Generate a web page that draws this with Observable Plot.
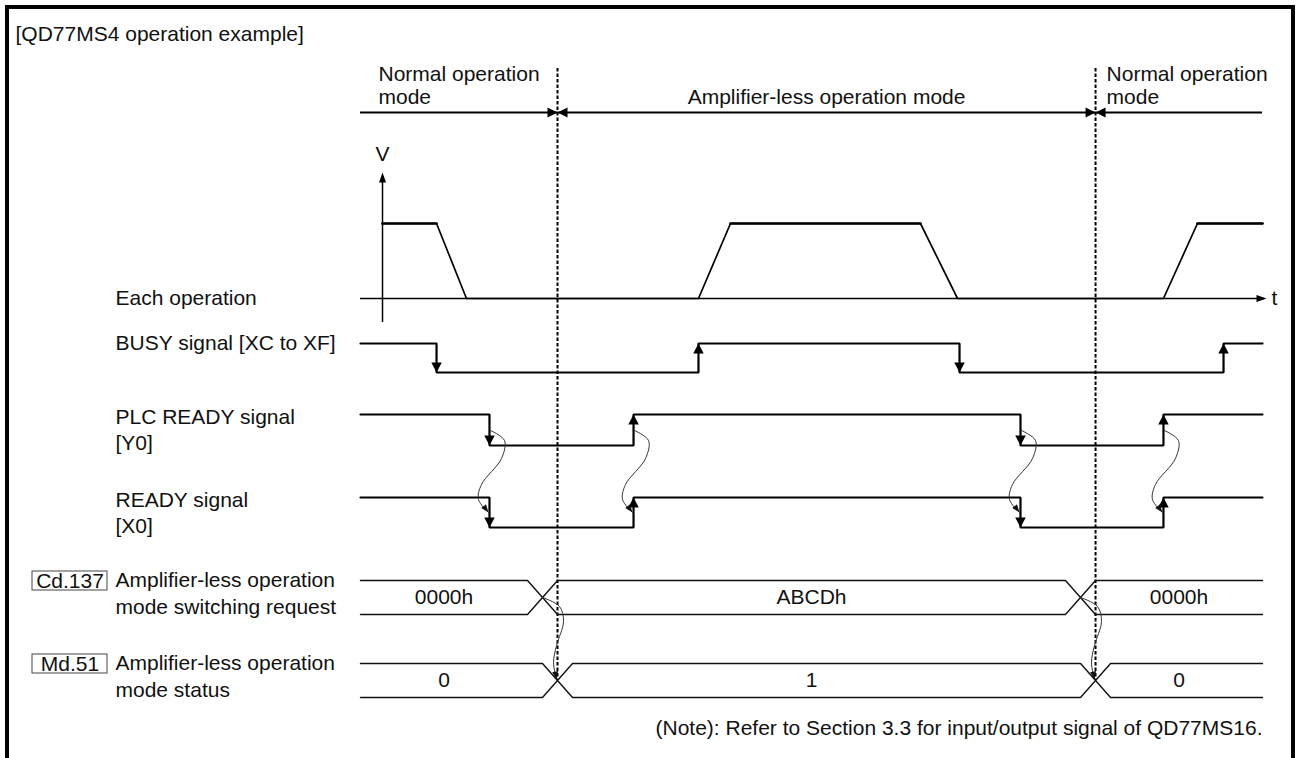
<!DOCTYPE html>
<html>
<head>
<meta charset="utf-8">
<script src="https://cdn.jsdelivr.net/npm/d3@7"></script>
<script src="https://cdn.jsdelivr.net/npm/@observablehq/plot@0.6"></script>
<style>
html, body { margin:0; padding:0; background:#fff; overflow:hidden; }
#wrap { position:relative; width:1296px; height:758px; }
#frame { position:absolute; left:5px; top:5px; width:1290px; height:790px; box-sizing:border-box; border:4.5px solid #000; border-bottom:none; pointer-events:none; }
#chart svg { display:block; }
</style>
</head>
<body>
<div id="wrap"><div id="chart"></div><div id="frame"></div></div>
<script>
// ---------------- data ----------------
const title = "[QD77MS4 operation example]";
const note = "(Note): Refer to Section 3.3 for input/output signal of QD77MS16.";
const modeNames = ["Normal operation", "Amplifier-less operation mode", "Normal operation"];
const modeSub = ["mode", "", "mode"];
const modeSwitchT = [21.84, 81.49];

// each operation (speed profile), time in % of the time axis, speed normalised
const speedT = [2.44, 8.43, 11.75, 37.47, 41.02, 62.08, 66.19, 89.02, 92.79, 100];
const speedV = [1, 1, 0, 0, 1, 1, 0, 0, 1, 1];

const busyT = [0, 8.43, 37.47, 66.41, 95.68];
const busyLevel = [1, 0, 1, 0, 1];
const plcReadyT = [0, 14.30, 30.27, 73.17, 89.02];
const plcReadyLevel = [1, 0, 1, 0, 1];
const readyT = [0, 14.30, 30.27, 73.17, 89.02];
const readyLevel = [1, 0, 1, 0, 1];

const cdCrossT = [20.18, 79.82];
const cdValues = ["0000h", "ABCDh", "0000h"];
const mdCrossT = [21.84, 81.49];
const mdValues = ["0", "1", "0"];

const signalNames = [["Each operation"], ["BUSY signal [XC to XF]"], ["PLC READY signal", "[Y0]"], ["READY signal", "[X0]"]];
const bufferCodes = ["Cd.137", "Md.51"];
const bufferNames = [["Amplifier-less operation", "mode switching request"], ["Amplifier-less operation", "mode status"]];
const axisNames = ["V", "t"];

// ---------------- layout ----------------
const W = 1296, H = 758;
const XR = [360, 1262];
const TD = [0, 100];
const tx = px => TD[0] + (px - XR[0]) / (XR[1] - XR[0]) * (TD[1] - TD[0]);
const dt = px => px / (XR[1] - XR[0]) * (TD[1] - TD[0]);
const L = { title: 34, mode1: 74, mode2: 97, modeLine: 112, dashTop: 68, dashBottom: 680,
  vLabel: 154, vTip: 172, vBottom: 322, speedTop: 223, tAxis: 298,
  busyHi: 343, busyLo: 372, plcHi: 414, plcLo: 445, rdyHi: 497, rdyLo: 527,
  cdTop: 580, cdBot: 614, mdTop: 663, mdBot: 697, note: 728 };
const signalLabelY = [[L.tAxis], [L.busyHi], [L.plcHi + 3, L.plcHi + 29], [L.rdyHi + 3, L.rdyHi + 29]];
const bufferLabelY = [[L.cdTop, L.cdTop + 27], [L.mdTop, L.mdTop + 27]];
const FONT = "'Liberation Sans', Arial, Helvetica, sans-serif";
const FS = 21;
const busHalf = dt(15);

// arrowhead symbol: tip at origin, pointing up
const head = (len, wid) => ({ draw(ctx) { ctx.moveTo(0, 0); ctx.lineTo(wid / 2, len); ctx.lineTo(-wid / 2, len); ctx.closePath(); } });
const SIG = head(10, 10.5), MODE = head(10, 10), AXIS = head(10, 7), CURV = head(8, 6);

// ---------------- derived geometry ----------------
function stepPts(ts, lv, hi, lo, key) {
  const y = v => v ? hi : lo, pts = [];
  ts.forEach((t, i) => { if (i) pts.push({t, y: y(lv[i - 1]), key}); pts.push({t, y: y(lv[i]), key}); });
  pts.push({t: TD[1], y: y(lv[lv.length - 1]), key});
  return pts;
}
function edgeArrows(ts, lv, hi, lo) {
  return ts.slice(1).map((t, i) => ({t, y: lv[i + 1] ? hi : lo, rot: lv[i + 1] ? 0 : 180}));
}
function busShapes(cross, top, bot, key, h) {
  const mid = (top + bot) / 2, out = [], n = cross.length;
  const add = (arr, k) => arr.forEach(([t, y]) => out.push({t, y, key: key + k}));
  add([[TD[0], top], [cross[0] - h, top], [cross[0], mid], [cross[0] - h, bot], [TD[0], bot]], 0);
  for (let i = 1; i < n; i++) {
    const a = cross[i - 1], b = cross[i];
    add([[a, mid], [a + h, top], [b - h, top], [b, mid], [b - h, bot], [a + h, bot], [a, mid]], i);
  }
  const c = cross[n - 1];
  add([[TD[1], top], [c + h, top], [c, mid], [c + h, bot], [TD[1], bot]], n);
  return out;
}
function valueCenters(cross, h) {
  const c = [(TD[0] + cross[0] - h) / 2];
  for (let i = 1; i < cross.length; i++) c.push((cross[i - 1] + cross[i]) / 2);
  c.push((cross[cross.length - 1] + h + TD[1]) / 2);
  return c;
}
// hand-drawn cause->effect connectors
const handTpl = [[1, 16], [15, 26], [12, 44], [-8, 70], [-11, 85], [-1, 98]];
const busTpl = [[0, 0], [17, 9], [21, 24], [14, 48], [11, 65], [14, 82]];
function connector(t0, y0, tpl, key) {
  const pts = tpl.map(([dx, dy]) => ({t: t0 + dt(dx), y: y0 + dy, key}));
  const [ax, ay] = tpl[tpl.length - 2], [bx, by] = tpl[tpl.length - 1];
  const rot = Math.atan2(bx - ax, -(by - ay)) * 180 / Math.PI;
  return {pts, tip: {t: pts[pts.length - 1].t, y: pts[pts.length - 1].y, rot}};
}

const lines = [
  ...stepPts(busyT, busyLevel, L.busyHi, L.busyLo, "busy"),
  ...stepPts(plcReadyT, plcReadyLevel, L.plcHi, L.plcLo, "plc"),
  ...stepPts(readyT, readyLevel, L.rdyHi, L.rdyLo, "rdy")
];
const arrows = [
  ...edgeArrows(busyT, busyLevel, L.busyHi, L.busyLo),
  ...edgeArrows(plcReadyT, plcReadyLevel, L.plcHi, L.plcLo),
  ...edgeArrows(readyT, readyLevel, L.rdyHi, L.rdyLo)
];
const speedPts = speedT.map((t, i) => ({t, y: L.tAxis - speedV[i] * (L.tAxis - L.speedTop)}));
const topPts = [];
speedT.forEach((t, i) => { if (speedV[i] === 1) topPts.push({t, y: L.speedTop, key: speedT.slice(0, i + 1).filter((_, j) => speedV[j] === 1 && (j === 0 || speedV[j - 1] === 0)).length}); });

const bus = [
  ...busShapes(cdCrossT, L.cdTop, L.cdBot, "cd", busHalf),
  ...busShapes(mdCrossT, L.mdTop, L.mdBot, "md", busHalf)
];
const centers = valueCenters(cdCrossT, busHalf);
const busText = [
  ...cdValues.map((s, i) => ({t: centers[i], y: (L.cdTop + L.cdBot) / 2, s})),
  ...mdValues.map((s, i) => ({t: centers[i], y: (L.mdTop + L.mdBot) / 2, s}))
];

const conns = [];
plcReadyT.slice(1).forEach((t, i) => conns.push(connector(t, L.plcHi, handTpl, "h" + i)));
cdCrossT.forEach((t, i) => conns.push(connector(t, (L.cdTop + L.cdBot) / 2, busTpl, "b" + i)));
const connPts = conns.flatMap(c => c.pts);
const connTips = conns.map(c => c.tip);

const modeArrows = modeSwitchT.flatMap(t => [{t, y: L.modeLine, rot: 90}, {t, y: L.modeLine, rot: -90}]);

// texts
const startTexts = [
  {t: tx(15), y: L.title, s: title},
  {t: TD[0] + dt(18), y: L.mode1, s: modeNames[0]},
  {t: TD[0] + dt(18), y: L.mode2, s: modeSub[0]},
  {t: modeSwitchT[1] + dt(11), y: L.mode1, s: modeNames[2]},
  {t: modeSwitchT[1] + dt(11), y: L.mode2, s: modeSub[2]},
  {t: TD[1] + dt(9), y: L.tAxis, s: axisNames[1]},
  ...signalNames.flatMap((ls, i) => ls.map((s, j) => ({t: tx(115), y: signalLabelY[i][j], s}))),
  ...bufferNames.flatMap((ls, i) => ls.map((s, j) => ({t: tx(115), y: bufferLabelY[i][j], s})))
];
const midTexts = [
  {t: (modeSwitchT[0] + modeSwitchT[1]) / 2, y: L.mode2, s: modeNames[1]},
  {t: speedT[0], y: L.vLabel, s: axisNames[0]},
  ...busText,
  ...bufferCodes.map((s, i) => ({t: tx(69.5), y: bufferLabelY[i][0] + 0.5, s}))
];
const boxes = bufferCodes.map((s, i) => ({t1: tx(32), t2: tx(107), y1: bufferLabelY[i][0] - 9, y2: bufferLabelY[i][0] + 10}));

const chart = Plot.plot({
  width: W, height: H, margin: 0,
  x: {domain: TD, range: XR, axis: null},
  y: {domain: [0, H], range: [0, H], axis: null},
  style: {fontFamily: FONT, fontSize: FS + "px", background: "#fff", overflow: "visible"},
  marks: [
    // mode switch dashed lines
    Plot.ruleX(modeSwitchT, {x: d => d, y1: L.dashTop, y2: L.dashBottom, stroke: "#000", strokeWidth: 2, strokeDasharray: "3.5,2"}),
    // mode line + bow-tie arrows
    Plot.ruleY([L.modeLine], {y: d => d, x1: TD[0], x2: TD[1], stroke: "#000", strokeWidth: 2.2}),
    Plot.dot(modeArrows, {x: "t", y: "y", rotate: "rot", symbol: MODE, r: 5, fill: "#000", stroke: "none"}),
    // velocity axes
    Plot.ruleX([speedT[0]], {x: d => d, y1: L.vBottom, y2: L.vTip + 4, stroke: "#000", strokeWidth: 1.5}),
    Plot.dot([{t: speedT[0], y: L.vTip, rot: 0}], {x: "t", y: "y", rotate: "rot", symbol: AXIS, r: 5, fill: "#000", stroke: "none"}),
    Plot.ruleY([L.tAxis], {y: d => d, x1: TD[0], x2: TD[1] + dt(2), stroke: "#000", strokeWidth: 1.5}),
    Plot.dot([{t: TD[1] + dt(4), y: L.tAxis, rot: 90}], {x: "t", y: "y", rotate: "rot", symbol: AXIS, r: 5, fill: "#000", stroke: "none"}),
    // velocity profile
    Plot.line(speedPts, {x: "t", y: "y", stroke: "#000", strokeWidth: 1.7}),
    Plot.line(topPts, {x: "t", y: "y", z: "key", stroke: "#000", strokeWidth: 2.7}),
    // digital signals
    Plot.line(lines, {x: "t", y: "y", z: "key", curve: "linear", stroke: "#000", strokeWidth: 2.2, strokeLinejoin: "miter"}),
    Plot.dot(arrows, {x: "t", y: "y", rotate: "rot", symbol: SIG, r: 5, fill: "#000", stroke: "none"}),
    // buffer memory buses
    Plot.line(bus, {x: "t", y: "y", z: "key", stroke: "#111", strokeWidth: 1.4}),
    // cause-effect connectors
    Plot.line(connPts, {x: "t", y: "y", z: "key", curve: "catmull-rom", stroke: "#333", strokeWidth: 1}),
    Plot.dot(connTips, {x: "t", y: "y", rotate: "rot", symbol: CURV, r: 4, fill: "#111", stroke: "none"}),
    // label boxes
    Plot.rect(boxes, {x1: "t1", x2: "t2", y1: "y1", y2: "y2", fill: "none", stroke: "#444", strokeWidth: 1}),
    // texts
    Plot.text(startTexts, {x: "t", y: "y", text: "s", textAnchor: "start", fill: "#111", fontSize: FS}),
    Plot.text(midTexts, {x: "t", y: "y", text: "s", textAnchor: "middle", fill: "#111", fontSize: FS}),
    Plot.text([{t: TD[1], y: L.note, s: note}], {x: "t", y: "y", text: "s", textAnchor: "end", fill: "#111", fontSize: FS})
  ]
});
document.getElementById("chart").appendChild(chart);
</script>
</body>
</html>
